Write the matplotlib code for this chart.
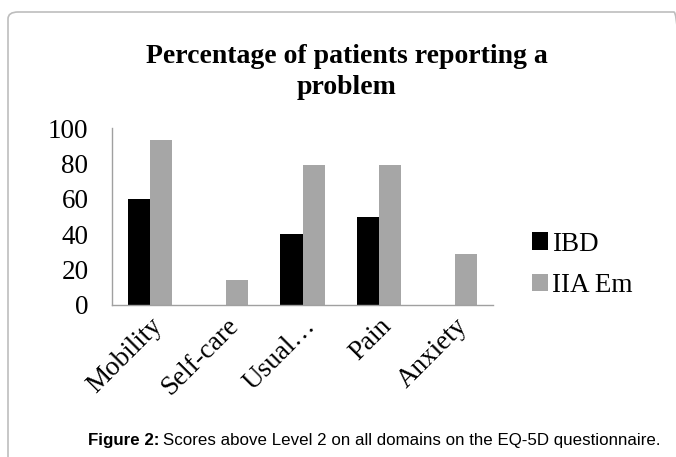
import numpy as np
import matplotlib.pyplot as plt
from matplotlib.patches import FancyBboxPatch

categories = ['Mobility', 'Self-care', 'Usual…', 'Pain', 'Anxiety']
ibd = [60, 0, 40, 50, 0]
iia_em = [93, 14, 79, 79, 29]
series_names = ['IBD', 'IIA Em']
yticks = [0, 20, 40, 60, 80, 100]

W, H = 676, 457
fig = plt.figure(figsize=(W / 100, H / 100), dpi=100)

# rounded frame around chart + caption
frame = FancyBboxPatch((8 / W, -0.05), 1.0, 1 - 12 / H + 0.05,
                       boxstyle='round,pad=0,rounding_size=0.015',
                       transform=fig.transFigure, fill=False,
                       edgecolor='#bdbdbd', linewidth=1.2, clip_on=False)
fig.patches.append(frame)

ax = fig.add_axes([112 / W, 1 - 305 / H, (493 - 112) / W, (305 - 128) / H])

x = np.arange(len(categories))
w = 0.29
ax.bar(x - w / 2, ibd, w, color='black', label=series_names[0])
ax.bar(x + w / 2, iia_em, w, color='#a6a6a6', label=series_names[1])

ax.set_xlim(-0.5, len(categories) - 0.5)
ax.set_ylim(0, 100)
ax.set_yticks(yticks)
ax.set_xticks(x)
serif = 'Liberation Serif'
ax.set_yticklabels([str(t) for t in yticks], fontfamily=serif, fontsize=19.5)
ax.set_xticklabels(categories, fontfamily=serif, fontsize=19.5, rotation=45,
                   ha='right', rotation_mode='anchor')
ax.tick_params(axis='y', length=0, pad=17)
ax.tick_params(axis='x', length=0, pad=6)
for s in ['top', 'right']:
    ax.spines[s].set_visible(False)
for s in ['left', 'bottom']:
    ax.spines[s].set_color('#a0a0a0')
    ax.spines[s].set_linewidth(1)

leg = ax.legend(loc='center left', bbox_to_anchor=(1.102, 0.226), frameon=False,
                prop={'family': serif, 'size': 19.5}, handlelength=0.6,
                handleheight=0.6, handletextpad=0.15, labelspacing=0.62,
                borderpad=0, borderaxespad=0)

fig.text(347 / W, 1 - 72 / H, 'Percentage of patients reporting a\nproblem',
         ha='center', va='center', fontfamily=serif, fontweight='bold',
         fontsize=20, linespacing=1.28)

# caption: bold lead-in followed by regular text
cap_y = 1 - 441 / H
lead = fig.text(88 / W, cap_y, 'Figure 2:', ha='left', va='center',
                fontfamily='Liberation Sans', fontweight='bold', fontsize=12.2)
fig.canvas.draw()
bb = lead.get_window_extent(renderer=fig.canvas.get_renderer())
fig.text(bb.x1 / W + 4 / W, cap_y,
         'Scores above Level 2 on all domains on the EQ-5D questionnaire.',
         ha='left', va='center', fontfamily='Liberation Sans', fontsize=12.2)

fig.savefig('out.png', dpi=100)
